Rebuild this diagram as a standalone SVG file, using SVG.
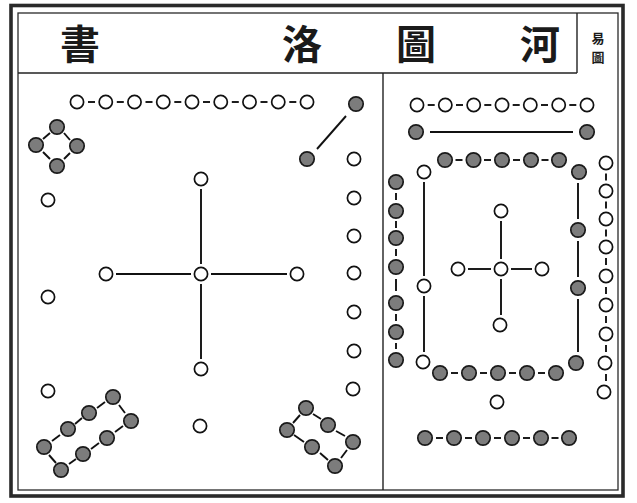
<svg xmlns="http://www.w3.org/2000/svg" width="637" height="503" viewBox="0 0 637 503">
  <style>
    .frame { fill: none; stroke: #2a2a2a; }
    .rule { stroke: #222; stroke-width: 1.4; fill: none; }
    .o { fill: #fff; stroke: #111; stroke-width: 1.7; }
    .d { fill: #7c7c7c; stroke: #1a1a1a; stroke-width: 1.7; }
    .ln { stroke: #111; stroke-width: 1.9; fill: none; stroke-linecap: butt; }
    .ttl { font-family: "Noto Sans CJK TC", "Noto Sans CJK SC", serif; font-weight: 700; fill: #1a1a1a; text-anchor: middle; }
  </style>
  <defs>
    <circle id="w" r="6.6" class="o"/>
    <circle id="b" r="7.2" class="d"/>
  </defs>

  <rect width="637" height="503" fill="#fff"/>

  <!-- borders and rules -->
  <g id="frame">
    <rect class="frame" x="11" y="5.5" width="612" height="490.5" stroke-width="3.6"/>
    <rect class="frame" x="18" y="13" width="600" height="477" stroke-width="1.3"/>
    <line class="rule" x1="18" y1="73" x2="577" y2="73"/>
    <line class="rule" x1="577" y1="13" x2="577" y2="73"/>
    <line class="rule" x1="383" y1="73" x2="383" y2="490"/>
  </g>

  <!-- heading -->
  <g id="heading">
    <text class="ttl" x="80" y="59" font-size="40">書</text>
    <text class="ttl" x="302" y="59" font-size="40">洛</text>
    <text class="ttl" x="416" y="59" font-size="40">圖</text>
    <text class="ttl" x="540" y="59" font-size="40">河</text>
    <text class="ttl" x="598" y="43" font-size="13">易</text>
    <text class="ttl" x="598" y="62" font-size="13">圖</text>
  </g>

  <!-- connectors -->
  <g id="connectors">
    <!-- Luoshu: nine, top row -->
    <g class="ln">
      <line x1="88" y1="102" x2="95" y2="102"/>
      <line x1="116.8" y1="102" x2="123.8" y2="102"/>
      <line x1="145.5" y1="102" x2="152.5" y2="102"/>
      <line x1="174.3" y1="102" x2="181.3" y2="102"/>
      <line x1="203" y1="102" x2="210" y2="102"/>
      <line x1="231.8" y1="102" x2="238.8" y2="102"/>
      <line x1="260.5" y1="102" x2="267.5" y2="102"/>
      <line x1="289.3" y1="102" x2="296.3" y2="102"/>
    </g>
    <!-- Luoshu: two -->
    <line class="ln" x1="346" y1="116" x2="317" y2="149"/>
    <!-- Luoshu: four, diamond -->
    <g class="ln">
      <line x1="50" y1="133" x2="43" y2="139"/>
      <line x1="64" y1="133" x2="70" y2="140"/>
      <line x1="43" y1="152" x2="50" y2="159"/>
      <line x1="70" y1="153" x2="64" y2="159"/>
    </g>
    <!-- Luoshu: five, cross -->
    <g class="ln">
      <line x1="201" y1="189" x2="201" y2="264"/>
      <line x1="201" y1="284" x2="201" y2="359"/>
      <line x1="116" y1="274" x2="191" y2="274"/>
      <line x1="211" y1="274" x2="287" y2="274"/>
    </g>
    <!-- Luoshu: eight, bottom left -->
    <g class="ln">
      <line x1="52" y1="441" x2="60" y2="435"/>
      <line x1="75" y1="424" x2="82" y2="418"/>
      <line x1="97" y1="408" x2="105" y2="402"/>
      <line x1="69" y1="464" x2="76" y2="459"/>
      <line x1="91" y1="449" x2="99" y2="443"/>
      <line x1="115" y1="432" x2="123" y2="426"/>
      <line x1="49" y1="455" x2="56" y2="463"/>
      <line x1="119" y1="405" x2="125" y2="413"/>
    </g>
    <!-- Luoshu: six, bottom right -->
    <g class="ln">
      <line x1="313" y1="414" x2="321" y2="419"/>
      <line x1="336" y1="431" x2="345" y2="436"/>
      <line x1="294" y1="435" x2="304" y2="442"/>
      <line x1="320" y1="453" x2="328" y2="460"/>
      <line x1="300" y1="415" x2="293" y2="423"/>
      <line x1="347" y1="450" x2="341" y2="458"/>
    </g>

    <!-- Hetu: seven, top row -->
    <g class="ln">
      <line x1="427.7" y1="105" x2="434.7" y2="105"/>
      <line x1="456" y1="105" x2="463" y2="105"/>
      <line x1="484.3" y1="105" x2="491.3" y2="105"/>
      <line x1="512.7" y1="105" x2="519.7" y2="105"/>
      <line x1="541" y1="105" x2="548" y2="105"/>
      <line x1="569.3" y1="105" x2="576.3" y2="105"/>
    </g>
    <!-- Hetu: two -->
    <line class="ln" x1="430" y1="132" x2="573" y2="132"/>
    <!-- Hetu: inner ten, top and bottom -->
    <g class="ln">
      <line x1="455.5" y1="160" x2="462.5" y2="160"/>
      <line x1="484" y1="160" x2="491" y2="160"/>
      <line x1="513" y1="160" x2="520" y2="160"/>
      <line x1="541.5" y1="160" x2="548.5" y2="160"/>
      <line x1="451" y1="373" x2="458" y2="373"/>
      <line x1="480" y1="373" x2="487" y2="373"/>
      <line x1="509" y1="373" x2="516" y2="373"/>
      <line x1="538" y1="373" x2="545" y2="373"/>
    </g>
    <!-- Hetu: three, inner left -->
    <g class="ln">
      <line x1="424" y1="182" x2="424" y2="276"/>
      <line x1="424" y1="296" x2="424" y2="352"/>
    </g>
    <!-- Hetu: four, inner right -->
    <g class="ln">
      <line x1="578" y1="183" x2="578" y2="219"/>
      <line x1="578" y1="241" x2="578" y2="277"/>
      <line x1="578" y1="299" x2="578" y2="352"/>
    </g>
    <!-- Hetu: five, cross -->
    <g class="ln">
      <line x1="501" y1="221" x2="501" y2="259"/>
      <line x1="501" y1="279" x2="501" y2="315"/>
      <line x1="468" y1="269" x2="491" y2="269"/>
      <line x1="511" y1="269" x2="532" y2="269"/>
    </g>
    <!-- Hetu: eight, outer left -->
    <g class="ln">
      <line x1="396" y1="193" x2="396" y2="200"/>
      <line x1="396" y1="221" x2="396" y2="228"/>
      <line x1="396" y1="249" x2="396" y2="256"/>
      <line x1="396" y1="279" x2="396" y2="291"/>
      <line x1="396" y1="314" x2="396" y2="321"/>
      <line x1="396" y1="343" x2="396" y2="349"/>
    </g>
    <!-- Hetu: nine, outer right -->
    <g class="ln">
      <line x1="606" y1="173.5" x2="606" y2="180.5"/>
      <line x1="606" y1="201.5" x2="606" y2="208.5"/>
      <line x1="606" y1="229.5" x2="606" y2="236.5"/>
      <line x1="606" y1="258" x2="606" y2="265"/>
      <line x1="606" y1="287" x2="606" y2="294"/>
      <line x1="606" y1="316" x2="606" y2="323"/>
      <line x1="606" y1="345" x2="606" y2="352"/>
      <line x1="606" y1="374" x2="606" y2="381"/>
    </g>
    <!-- Hetu: six, bottom row -->
    <g class="ln">
      <line x1="436" y1="438" x2="443" y2="438"/>
      <line x1="465" y1="438" x2="472" y2="438"/>
      <line x1="494" y1="438" x2="501" y2="438"/>
      <line x1="523" y1="438" x2="530" y2="438"/>
      <line x1="551.5" y1="438" x2="558.5" y2="438"/>
    </g>
  </g>

  <!-- Luoshu nodes -->
  <g id="luo-nine">
    <use href="#w" x="77" y="102"/><use href="#w" x="105.75" y="102"/><use href="#w" x="134.5" y="102"/>
    <use href="#w" x="163.25" y="102"/><use href="#w" x="192" y="102"/><use href="#w" x="220.75" y="102"/>
    <use href="#w" x="249.5" y="102"/><use href="#w" x="278.25" y="102"/><use href="#w" x="307" y="102"/>
  </g>
  <g id="luo-two">
    <use href="#b" x="356" y="104"/><use href="#b" x="307" y="159"/>
  </g>
  <g id="luo-four">
    <use href="#b" x="57" y="127"/><use href="#b" x="36" y="145"/><use href="#b" x="77" y="146"/><use href="#b" x="57" y="166"/>
  </g>
  <g id="luo-three">
    <use href="#w" x="48" y="200"/><use href="#w" x="48" y="297"/><use href="#w" x="48" y="391"/>
  </g>
  <g id="luo-seven">
    <use href="#w" x="354" y="159"/><use href="#w" x="354" y="198"/><use href="#w" x="354" y="236"/>
    <use href="#w" x="354" y="273"/><use href="#w" x="354" y="312"/><use href="#w" x="354" y="351"/>
    <use href="#w" x="353" y="389"/>
  </g>
  <g id="luo-five">
    <use href="#w" x="201" y="274"/><use href="#w" x="201" y="179"/><use href="#w" x="201" y="369"/>
    <use href="#w" x="106" y="274"/><use href="#w" x="297" y="274"/>
  </g>
  <g id="luo-one">
    <use href="#w" x="200" y="426"/>
  </g>
  <g id="luo-eight">
    <use href="#b" x="44" y="447"/><use href="#b" x="68" y="429"/><use href="#b" x="89" y="413"/><use href="#b" x="113" y="397"/>
    <use href="#b" x="61" y="470"/><use href="#b" x="83" y="454"/><use href="#b" x="107" y="438"/><use href="#b" x="131" y="421"/>
  </g>
  <g id="luo-six">
    <use href="#b" x="306" y="408"/><use href="#b" x="328" y="425"/><use href="#b" x="353" y="442"/>
    <use href="#b" x="287" y="430"/><use href="#b" x="312" y="447"/><use href="#b" x="335" y="466"/>
  </g>

  <!-- Hetu nodes -->
  <g id="he-seven">
    <use href="#w" x="417" y="105"/><use href="#w" x="445.3" y="105"/><use href="#w" x="473.7" y="105"/>
    <use href="#w" x="502" y="105"/><use href="#w" x="530.3" y="105"/><use href="#w" x="558.7" y="105"/>
    <use href="#w" x="587" y="105"/>
  </g>
  <g id="he-two">
    <use href="#b" x="416" y="132"/><use href="#b" x="587" y="132"/>
  </g>
  <g id="he-ten">
    <use href="#b" x="445" y="160"/><use href="#b" x="473.5" y="160"/><use href="#b" x="502" y="160"/>
    <use href="#b" x="531" y="160"/><use href="#b" x="559" y="160"/>
    <use href="#b" x="440" y="373"/><use href="#b" x="469" y="373"/><use href="#b" x="498" y="373"/>
    <use href="#b" x="527" y="373"/><use href="#b" x="556" y="373"/>
  </g>
  <g id="he-three">
    <use href="#w" x="424" y="172"/><use href="#w" x="424" y="286"/><use href="#w" x="423" y="362"/>
  </g>
  <g id="he-four">
    <use href="#b" x="579" y="172"/><use href="#b" x="578" y="230"/><use href="#b" x="578" y="288"/><use href="#b" x="576" y="363"/>
  </g>
  <g id="he-five">
    <use href="#w" x="501" y="269"/><use href="#w" x="501" y="211"/><use href="#w" x="500" y="325"/>
    <use href="#w" x="458" y="269"/><use href="#w" x="542" y="269"/>
  </g>
  <g id="he-eight">
    <use href="#b" x="396" y="182"/><use href="#b" x="396" y="211"/><use href="#b" x="396" y="238"/>
    <use href="#b" x="396" y="267"/><use href="#b" x="396" y="303"/><use href="#b" x="396" y="332"/>
    <use href="#b" x="396" y="360"/>
  </g>
  <g id="he-nine">
    <use href="#w" x="606" y="163"/><use href="#w" x="606" y="191"/><use href="#w" x="606" y="219"/>
    <use href="#w" x="606" y="247"/><use href="#w" x="606" y="276"/><use href="#w" x="606" y="305"/>
    <use href="#w" x="606" y="334"/><use href="#w" x="605" y="363"/><use href="#w" x="604" y="392"/>
  </g>
  <g id="he-one">
    <use href="#w" x="497" y="402"/>
  </g>
  <g id="he-six">
    <use href="#b" x="425" y="438"/><use href="#b" x="454" y="438"/><use href="#b" x="483" y="438"/>
    <use href="#b" x="512" y="438"/><use href="#b" x="541" y="438"/><use href="#b" x="569" y="438"/>
  </g>
</svg>
